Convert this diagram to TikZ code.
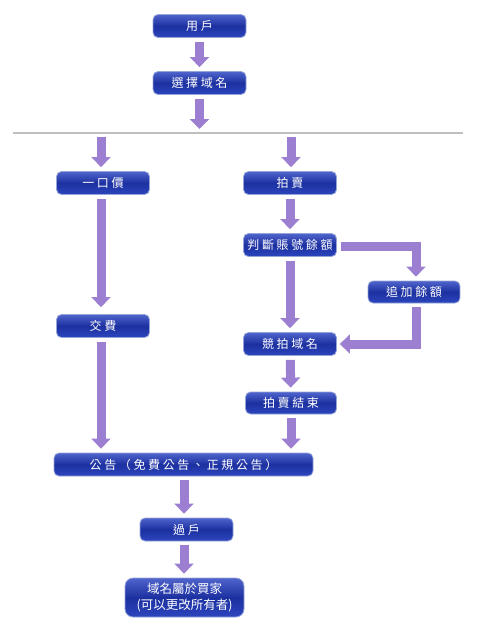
\documentclass[tikz,border=0pt]{standalone}
\usepackage{fontspec}
\usepackage{tikz}
\usetikzlibrary{arrows.meta}
\newfontfamily\cjk[LetterSpace=22]{Noto Sans CJK TC}
\newfontfamily\cjkplain{Noto Sans CJK TC}
\definecolor{arrowpurple}{RGB}{156,127,208}
\definecolor{boxtop}{RGB}{80,100,205}
\definecolor{boxmid}{RGB}{28,48,160}
\definecolor{boxbot}{RGB}{45,70,190}
\definecolor{boxedge}{RGB}{150,165,215}

\tikzset{
  stepbox/.style={rounded corners=5pt, draw=boxedge, line width=0.8pt,
    top color=boxtop, bottom color=boxbot, middle color=boxmid,
    text=white, font=\cjk\fontsize{12}{14}\selectfont,
    minimum width=93pt, minimum height=23pt, inner sep=0pt},
  fatarrow/.style={arrowpurple, line width=9pt, line join=miter,
    -{Triangle[width=19pt, length=10pt]},
    shorten <=4pt, shorten >=4pt},
  divider/.style={gray!50, line width=2pt}
}

\begin{document}
\begin{tikzpicture}[x=1pt, y=-1pt]

    \useasboundingbox (0,0) rectangle (480,625);

    % Choosing the name
    \node[stepbox] (user) at (199.5,26) {用戶};
    \node[stepbox] (pick) at (199.5,83) {選擇域名};

    % The line where the two ways split
    \coordinate (divL) at (13,133);
    \coordinate (divR) at (463,133);
    \draw[divider] (divL) -- (divR);
    \coordinate (cutA) at (199.5,133);
    \coordinate (cutB) at (101,133);
    \coordinate (cutC) at (291,133);

    % Left: fixed price
    \node[stepbox] (fixed) at (103,183) {一口價};
    \node[stepbox] (fee) at (103,326) {交費};

    % Right: auction
    \node[stepbox] (auction) at (290,183) {拍賣};
    \node[stepbox] (check) at (290,245) {判斷賬號餘額};
    \node[stepbox, minimum width=92pt, minimum height=22pt] (topup) at (414,292) {追加餘額};
    \node[stepbox] (bid) at (290,344) {競拍域名};
    \node[stepbox, minimum width=91pt, minimum height=22pt] (closed) at (291,403) {拍賣結束};

    % Both ways end here
    \node[stepbox, minimum width=259pt] (notice) at (183.5,464.5) {公告（免費公告、正規公告）};
    \node[stepbox] (transfer) at (186.5,529.5) {過戶};
    \node[stepbox, minimum width=119pt, minimum height=39pt, rounded corners=8pt,
          font=\cjkplain\fontsize{12.5}{16}\selectfont, align=center]
        (owner) at (184.5,597.5) {域名屬於買家\\(可以更改所有者)};

    % Arrows
    \draw[fatarrow] (user) -- (pick);
    \draw[fatarrow] (pick) -- (cutA);
    \draw[fatarrow] (cutB) -- (cutB |- fixed.north);
    \draw[fatarrow] (cutC) -- (cutC |- auction.north);
    \draw[fatarrow, shorten >=7pt] (cutB |- fixed.south) -- (cutB |- fee.north);
    \draw[fatarrow] (cutB |- fee.south) -- (cutB |- notice.north);
    \draw[fatarrow] (auction) -- (check);
    \draw[fatarrow] (check) -- (bid);
    \draw[fatarrow] ([yshift=-1.5pt]check.east) -| ([xshift=2pt]topup.north);
    \draw[fatarrow, shorten >=3pt] ([xshift=2pt]topup.south) |- (bid.east);
    \draw[fatarrow] (bid) -- (closed);
    \draw[fatarrow] (closed.south) -- (closed.south |- notice.north);
    \draw[fatarrow] (notice.south -| transfer.center) ++(-2.5,0) coordinate (nt) -- (nt |- transfer.north);
    \draw[fatarrow] (nt |- transfer.south) -- (nt |- owner.north);

\end{tikzpicture}
\end{document}
